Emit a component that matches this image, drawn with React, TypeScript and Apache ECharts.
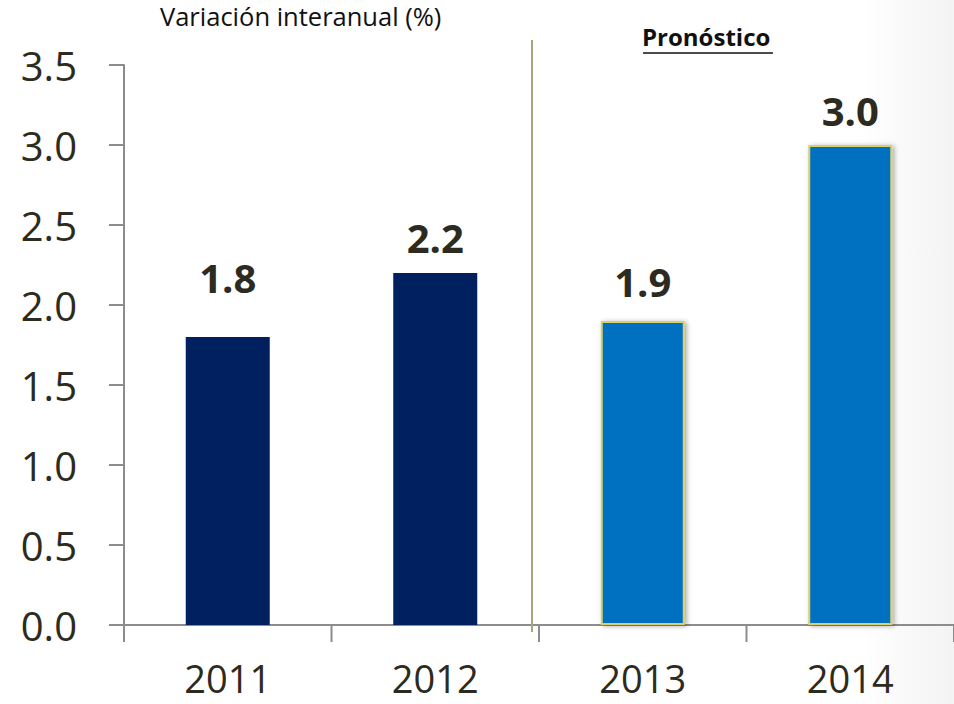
import React, { useEffect, useRef } from "react";
import * as echarts from "echarts";

const categories = ["2011", "2012", "2013", "2014"];
const values = [1.8, 2.2, 1.9, 3.0];
const isForecast = [false, false, true, true];
const labelGaps = [40, 16, 20, 15];
const yTicks = { min: 0, max: 3.5, interval: 0.5 };

const TEXT = "#2d2a20";
const FONT = "'Open Sans', sans-serif";
const AXIS = "#8c8c8c";

export default function App() {
  const ref = useRef<HTMLDivElement>(null);
  useEffect(() => {
    if (!ref.current) return;
    const chart = echarts.init(ref.current, null, { renderer: "svg" });
    const data = values.map((v, i) => ({
      value: v,
      itemStyle: isForecast[i]
        ? {
            color: "#0070C0",
            borderColor: "#d6d06e",
            borderWidth: 2,
            shadowBlur: 5,
            shadowColor: "rgba(0,0,0,0.35)",
            shadowOffsetX: 2,
            shadowOffsetY: 1,
          }
        : { color: "#002060" },
      label: { distance: labelGaps[i] },
    }));
    const baseGraphics: any[] = [
      {
        type: "rect",
        z: -10,
        silent: true,
        shape: { x: 860, y: 0, width: 94, height: 704 },
        style: {
          fill: new echarts.graphic.LinearGradient(0, 0, 1, 0, [
            { offset: 0, color: "rgba(238,238,238,0)" },
            { offset: 1, color: "rgba(238,238,238,0.7)" },
          ]),
        },
      },
      {
        type: "line",
        z: 1,
        shape: { x1: 532, y1: 40, x2: 532, y2: 632 },
        style: { stroke: "#a9a47c", lineWidth: 2 },
      },
      {
        type: "text",
        left: 160,
        top: 3,
        style: { text: "Variación interanual (%)", fontSize: 25.5, fontFamily: FONT, fill: "#111" },
      },
      {
        type: "text",
        left: 642,
        top: 24,
        style: { text: "Pronóstico", fontSize: 24, fontWeight: "bold", fontFamily: FONT, fill: "#111" },
      },
      {
        type: "line",
        shape: { x1: 643, y1: 53, x2: 773, y2: 53 },
        style: { stroke: "#111", lineWidth: 1.5 },
      },
    ];
    chart.setOption({
      animation: false,
      backgroundColor: "#ffffff",
      grid: { left: 124, right: 0, top: 65, bottom: 79, containLabel: false },
      xAxis: {
        type: "category",
        data: categories,
        boundaryGap: true,
        axisLine: { show: true, lineStyle: { color: AXIS, width: 2 } },
        axisTick: { show: false },
        axisLabel: { fontSize: 38, lineHeight: 32, color: TEXT, fontFamily: FONT, margin: 37 },
      },
      yAxis: {
        type: "value",
        min: yTicks.min,
        max: yTicks.max,
        interval: yTicks.interval,
        axisLine: { show: true, lineStyle: { color: AXIS, width: 2 } },
        axisTick: { show: false },
        splitLine: { show: false },
        axisLabel: {
          fontSize: 40,
          color: TEXT,
          fontFamily: FONT,
          margin: 47,
          formatter: (v: number) => v.toFixed(1),
        },
      },
      graphic: baseGraphics,
      series: [
        {
          type: "bar",
          data,
          barWidth: 84,
          label: {
            show: true,
            position: "top",
            fontSize: 40,
            fontWeight: "bold",
            fontFamily: FONT,
            color: TEXT,
            formatter: (p: any) => Number(p.value).toFixed(1),
          },
        },
      ],
    });

    // tick marks placed through the axes' own scales
    const ticks: any[] = [];
    const x0 = chart.convertToPixel({ xAxisIndex: 0 }, 0) as number;
    const x1 = chart.convertToPixel({ xAxisIndex: 0 }, 1) as number;
    const band = x1 - x0;
    const yZero = chart.convertToPixel({ yAxisIndex: 0 }, yTicks.min) as number;
    const xa = x0 - band / 2;
    for (let i = 0; i <= categories.length; i++) {
      const x = xa + i * band;
      ticks.push({
        type: "rect",
        z: 5,
        shape: { x: x - 1, y: yZero, width: 2, height: 17 },
        style: { fill: AXIS },
      });
    }
    const nY = Math.round((yTicks.max - yTicks.min) / yTicks.interval);
    for (let k = 0; k <= nY; k++) {
      const v = yTicks.min + k * yTicks.interval;
      const y = chart.convertToPixel({ yAxisIndex: 0 }, v) as number;
      ticks.push({
        type: "rect",
        z: 5,
        shape: { x: xa - 15, y: y - 1, width: 15, height: 2 },
        style: { fill: AXIS },
      });
    }
    chart.setOption({ graphic: [...baseGraphics, ...ticks] });
    return () => chart.dispose();
  }, []);
  return (
    <div
      ref={ref}
      style={{ position: "absolute", left: 0, top: 0, width: 954, height: 704 }}
    />
  );
}
